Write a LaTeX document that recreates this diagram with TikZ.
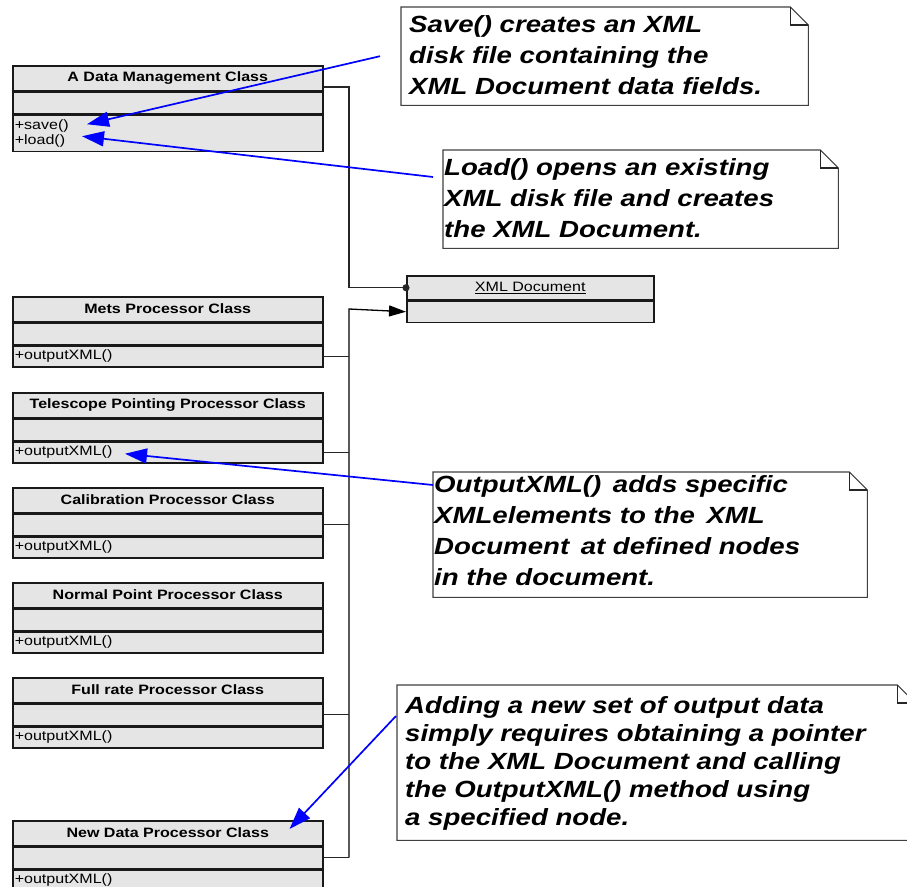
\documentclass[tikz,border=0pt]{standalone}
\usepackage{fontspec}
\setmainfont{Liberation Sans}
\newfontfamily\umlfont[FakeStretch=1.18]{Liberation Sans}
\usetikzlibrary{positioning,arrows.meta,calc}

\begin{document}
\begin{tikzpicture}[x=1pt, y=-1pt,
  cls/.style={draw=black!90, line width=1.5pt, fill=gray!20, minimum width=310, inner sep=0pt,
    font=\umlfont\fontsize{13.6}{15}\selectfont},
  hdr/.style={cls, minimum height=24.5, font=\umlfont\bfseries\fontsize{13.6}{15}\selectfont},
  attr/.style={cls, minimum height=21.5},
  ops/.style={cls, minimum height=21, text width=306pt, align=left, inner xsep=2pt},
  note/.style={draw=none, minimum width=400, inner sep=0pt, anchor=north west},
  notetxt/.style={font=\umlfont\bfseries\itshape\fontsize{23.4}{31}\selectfont, align=left, inner sep=0pt, anchor=north west},
  link/.style={draw=black!85, line width=1.3pt},
  hint/.style={draw=blue, line width=1.7pt, -{Triangle[length=22pt,width=15pt]}}]
\useasboundingbox (0,0) rectangle (907,886);
\clip (0,0) rectangle (907,886);
% data management class
\node[hdr, anchor=north west] (dm) at (12,65) {A Data Management Class};
\node[attr, minimum height=22, below=0pt of dm] (dm-a) {};
\node[ops, minimum height=36, below=0pt of dm-a] (dm-o) {+save()\\+load()};
% processor classes
\foreach \nm/\ttl/\top in {mets/Mets Processor Class/296, tel/Telescope Pointing Processor Class/392,
    cal/Calibration Processor Class/487, nor/Normal Point Processor Class/582,
    ful/Full rate Processor Class/677, new/New Data Processor Class/820}{
  \node[hdr, anchor=north west] (\nm) at (12,\top) {\ttl};
  \node[attr, below=0pt of \nm] (\nm-a) {};
  \node[ops, below=0pt of \nm-a] (\nm-o) {+outputXML()};
}
% xml document
\node[hdr, minimum width=247, minimum height=24, anchor=north west, font=\umlfont\fontsize{13.6}{15}\selectfont] (xml) at (406,275) {\underline{XML Document}};
\node[attr, minimum width=247, minimum height=21, below=0pt of xml] (xml-a) {};
% connectors
\coordinate (bus) at (349,309);
\draw[link, -{Circle[length=7pt]}, shorten >=-3.5pt] ([yshift=4pt]dm.south east) -| (bus |- xml.west) -- (xml.west);
\draw[link, draw=black, -{Triangle[length=17pt,width=11pt]}] (bus |- new-a.east) -- (bus) -- (xml-a.west);
\foreach \c in {mets-o, tel-o, cal-a, ful-a, new-a}{ \draw[link] (\c.east) -- (\c.east -| bus); }
% notes
\node[note, minimum width=407, minimum height=98] (n1) at (401,7) {};
\node[note, minimum width=395, minimum height=98] (n2) at (443,150) {};
\node[note, minimum width=434, minimum height=125] (n3) at (433,472) {};
\node[note, minimum width=518, minimum height=155] (n4) at (397,685) {};
\foreach \n in {n1,n2,n3,n4}{
  \draw[black!75, line width=1.1pt] (\n.north west) -- ([xshift=-18pt]\n.north east) -- ([yshift=-18pt]\n.north east)
    -- (\n.south east) -- (\n.south west) -- cycle;
  \draw[black!85, line width=1.1pt] ([xshift=-18pt]\n.north east) |- ([yshift=-18pt]\n.north east);
}
\node[notetxt] (t1) at (409,15) {Save() creates an XML\\disk file containing the\\XML Document data fields.};
\node[notetxt] (t2) at (444,158) {Load() opens an existing\\XML disk file and creates\\the XML Document.};
\node[notetxt] (t3) at (434,475) {OutputXML()\, adds specific\\XMLelements to the\, XML\\Document\, at defined nodes\\in the document.};
\node[notetxt, font=\umlfont\bfseries\itshape\fontsize{23.4}{28}\selectfont] (t4) at (405,696) {Adding a new set of output data\\simply requires obtaining a pointer\\to the XML Document and calling\\the OutputXML() method using\\a specified node.};
% note pointers
\coordinate (save-from) at ([xshift=-21pt]n1.west);
\coordinate (load-from) at ([shift={(-10pt,-27pt)}]n2.north west);
\coordinate (out-from) at ([yshift=-13pt]n3.north west);
\coordinate (new-from) at ([shift={(-1pt,-31pt)}]n4.north west);
\draw[hint] (save-from) -- ([shift={(75pt,9pt)}]dm-o.west);
\draw[hint] (load-from) -- ([shift={(70pt,-3pt)}]dm-o.west);
\draw[hint] (out-from) -- ([shift={(113pt,-1.5pt)}]tel-o.west);
\draw[hint] (new-from) -- ([shift={(-34pt,4pt)}]new.east);
\end{tikzpicture}
\end{document}
